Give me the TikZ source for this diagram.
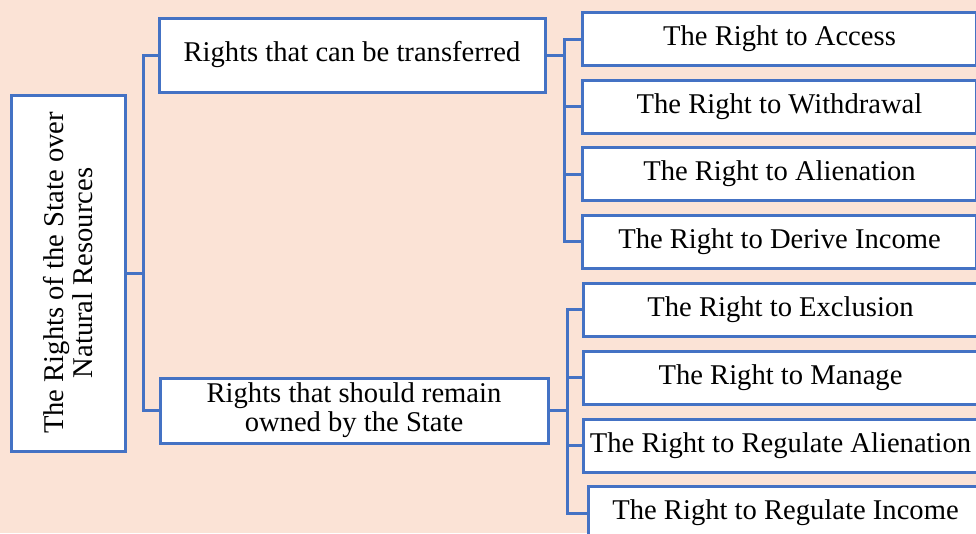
\documentclass[tikz,border=0pt]{standalone}
\usepackage{fontspec}
\setmainfont{Liberation Serif}
\definecolor{bgc}{HTML}{FBE3D6}
\definecolor{bcol}{HTML}{4472C4}
\tikzset{
  box/.style={draw=bcol, line width=3pt, fill=white, inner sep=0pt, align=center,
    font=\fontsize{28.6}{29}\selectfont},
  leaf/.style={box, minimum width=394pt, minimum height=53pt, anchor=west},
  conn/.style={draw=bcol, line width=3pt}
}
\begin{document}
\begin{tikzpicture}[x=1pt,y=-1pt]
\useasboundingbox (0,0) rectangle (976,533);
\clip (0,0) rectangle (976,533);
\fill[bgc] (0,0) rectangle (976,533);
% root
\node[box, rotate=90, minimum width=356pt, minimum height=114pt] (root) at (68,273)
  {The Rights of the State over\\Natural Resources};
% middle
\node[box, minimum width=386pt, minimum height=74pt] (a) at (352,55) {Rights that can be transferred};
\node[box, minimum width=388pt, minimum height=65pt] (b) at (354,410.5) {Rights that should remain\\owned by the State};
% leaves
\node[leaf] (l1) at (581,39) {The Right to Access};
\node[leaf] (l2) at (581,106.5) {The Right to Withdrawal};
\node[leaf] (l3) at (581,174) {The Right to Alienation};
\node[leaf] (l4) at (581,241.5) {The Right to Derive Income};
\node[leaf] (l5) at (582,309.5) {The Right to Exclusion};
\node[leaf] (l6) at (582,377.5) {The Right to Manage};
\node[leaf] (l7) at (582,445.5) {The Right to Regulate Alienation};
\node[leaf] (l8) at (587,513) {The Right to Regulate Income};
% connectors
\draw[conn] (root.south) -- ++(17,0) coordinate (j1);
\draw[conn] (j1) |- (a.west);
\draw[conn] (j1) |- (b.west);
\draw[conn] (a.east) -- ++(18,0) coordinate (j2);
\foreach \n in {l1,l2,l3,l4} \draw[conn] (j2) |- (\n.west);
\draw[conn] (b.east) -- ++(18,0) coordinate (j3);
\foreach \n in {l5,l6,l7,l8} \draw[conn] (j3) |- (\n.west);
\end{tikzpicture}
\end{document}
